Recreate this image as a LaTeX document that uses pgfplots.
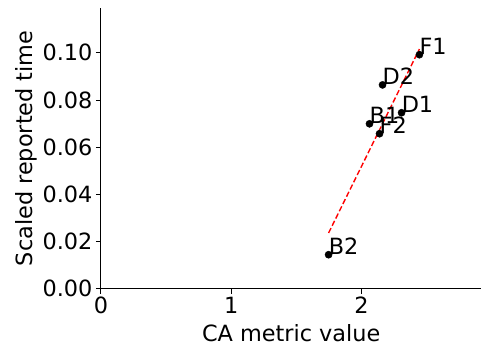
\documentclass[border=0pt]{standalone}
\usepackage{pgfplots}
\pgfplotsset{compat=1.18}
\usepackage{fontspec}
\setmainfont{DejaVu Sans}
\newcommand{\fs}{\fontsize{22.4}{26}\selectfont}
\begin{document}
\begin{tikzpicture}
\begin{axis}[
  scale only axis,
  width=381pt, height=281pt,
  xmin=0, xmax=2.92, ymin=0, ymax=0.119,
  axis x line*=bottom, axis y line*=left,
  axis line style={line width=1.1pt, black},
  xtick={0,1,2}, ytick={0,0.02,0.04,0.06,0.08,0.1},
  tick align=outside, major tick length=5pt,
  tick style={line width=0.9pt, black},
  /pgf/number format/assume math mode=true,
  yticklabel style={/pgf/number format/fixed, /pgf/number format/zerofill, /pgf/number format/precision=2},
  xticklabel style={/pgf/number format/fixed},
  scaled y ticks=false,
  tick label style={font=\fs},
  xlabel={CA metric value}, ylabel={Scaled reported time},
  label style={font=\fs},
  xlabel style={at={(rel axis cs:0.5,-0.1886)}, anchor=base},
  ylabel style={at={(rel axis cs:-0.1785,0.5)}, anchor=base},
  clip=false,
]
\path (rel axis cs:-0.2651,-0.2064) rectangle (rel axis cs:1,1.0285);
\addplot[red, dashed, line width=1.4pt, dash pattern=on 5.5pt off 2.6pt] coordinates {(1.747,0.0236) (2.444,0.1016)};
\addplot[only marks, mark=*, mark size=3.6pt, black,
  nodes near coords, point meta=explicit symbolic,
  nodes near coords style={font=\fs, anchor=base west, inner sep=0pt, text=black}]
  table[meta=label] {
x y label
2.444 0.0992 F1
2.161 0.0864 D2
2.307 0.0746 D1
2.061 0.0699 B1
2.138 0.0657 F2
1.747 0.0144 B2
};
\end{axis}
\end{tikzpicture}
\end{document}
